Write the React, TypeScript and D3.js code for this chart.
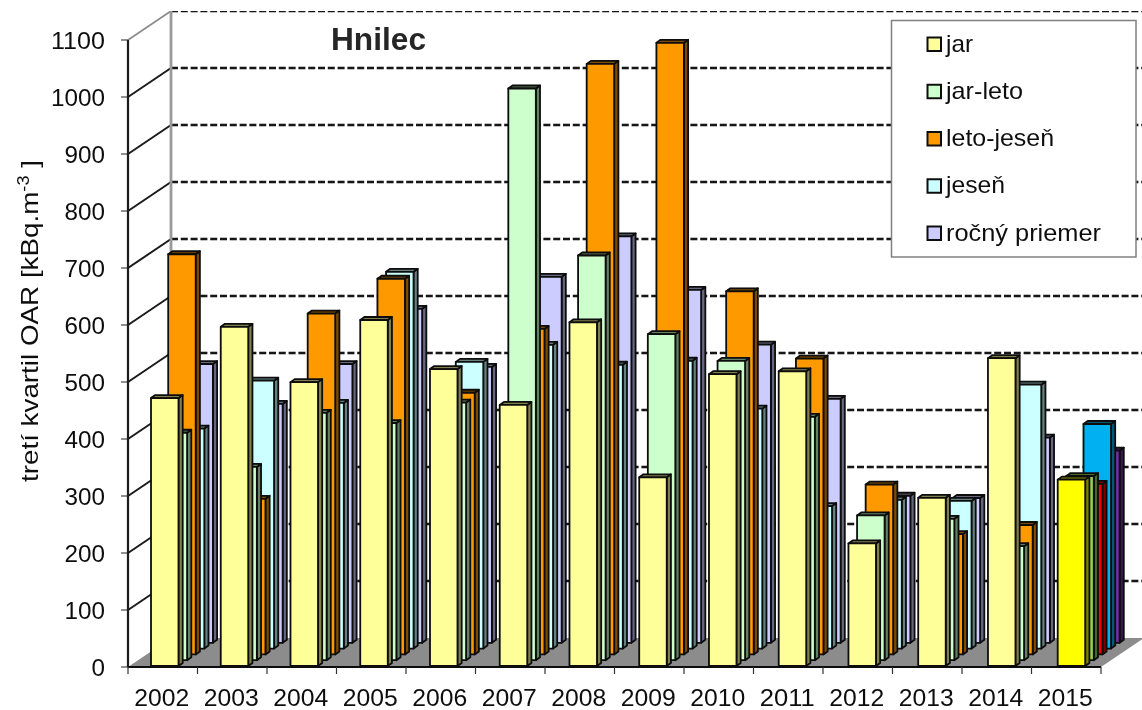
import React from "react";
import * as d3 from "d3";

const years = ["2002","2003","2004","2005","2006","2007","2008","2009","2010","2011","2012","2013","2014","2015"];
const seriesNames = ["jar","jar-leto","leto-jeseň","jeseň","ročný priemer"];
const jar =      [470,595,498,607,521,458,603,331,512,517,215,295,540,327];
const jarLeto =  [399,339,434,416,452,1003,710,572,525,427,254,248,200,323];
const letoJesen =[702,273,598,659,459,571,1036,1073,637,519,298,211,227,299];
const jesen =    [386,470,431,661,503,533,498,505,421,250,261,259,463,394];
const rocny =    [489,419,489,586,484,642,713,619,523,428,258,254,360,337];
const seriesValues = [jar,jarLeto,letoJesen,jesen,rocny];
const colors = ["#FFFF99","#CCFFCC","#FF9900","#CCFFFF","#CCCCFF"];
const sideColors = ["#808050","#668066","#804C00","#668080","#666680"];
const colors2015 = ["#FFFF00","#92D050","#FF0000","#00B0F0","#7030A0"];
const sideColors2015 = ["#808000","#496828","#800000","#005878","#381850"];
const yTicks = d3.range(0, 1101, 100);
const legendWidths = [27, 77, 108, 59, 155];

const font = "'Liberation Sans', Arial, sans-serif";

export default function App() {
  const y = d3.scaleLinear().domain([0, 1100]).range([667, 40]);
  const x = d3.scaleBand<string>().domain(years).range([128, 1101]);
  const barLeft = d3.scalePoint<string>().domain(years).range([151, 1057.7]);
  const depth = d3.scaleLinear().domain([0, 5]);
  const dxs = depth.copy().range([0, 43]);
  const dys = depth.copy().range([0, -29]);
  const line = d3.line<[number, number]>();
  const barW = 27.5, sx = 4.2, sy = 3, lift = -1;

  const bars: React.ReactNode[] = [];
  for (let s = 4; s >= 0; s--) {
    years.forEach((yr, i) => {
      const v = seriesValues[s][i];
      const l = barLeft(yr)! + dxs(s);
      const r = l + barW;
      const b = y(0) + dys(s) + lift;
      const t = y(v) + dys(s) + lift;
      const fill = i === 13 ? colors2015[s] : colors[s];
      const side = i === 13 ? sideColors2015[s] : sideColors[s];
      const common = { stroke: "#0c0c0c", strokeWidth: 1.8, strokeLinejoin: "round" as const };
      bars.push(
        <g key={s + "-" + i}>
          <path d={line([[r, t],[r + sx, t - sy],[r + sx, b - sy],[r, b]])! + "Z"} fill={side} {...common} />
          <path d={line([[l, t],[l + sx, t - sy],[r + sx, t - sy],[r, t]])! + "Z"} fill={side} {...common} />
          <rect x={l} y={t} width={barW} height={b - t} fill={fill} {...common} />
        </g>
      );
    });
  }

  const X0 = 128, X1 = 1101, DX = 43, DY = -29;
  return (
    <svg width={1142} height={710} style={{ position: "absolute", left: 0, top: 0, background: "#fff" }}>
      <defs>
        <filter id="soft" x="0" y="0" width="100%" height="100%">
          <feGaussianBlur stdDeviation="0.45" />
        </filter>
      </defs>
      <g filter="url(#soft)">
        <path d={line([[X0, y(0)],[X1, y(0)],[X1 + DX, y(0) + DY],[X0 + DX, y(0) + DY]])! + "Z"} fill="#8c8c8c" />
        {yTicks.map(t => (
          <g key={t}>
            {t > 0 && (
              <line x1={X0 + DX} x2={1142} y1={y(t) + DY} y2={y(t) + DY} stroke="#161616" strokeWidth={2.4} strokeDasharray="7 2.8" />
            )}
            {t > 0 && (
              <line x1={X0} x2={X0 + DX} y1={y(t)} y2={y(t) + DY} stroke={t === 1100 ? "#8a8a8a" : "#1a1a1a"} strokeWidth={t === 1100 ? 1.6 : 2} />
            )}
            <line x1={X0 - 7} x2={X0} y1={y(t)} y2={y(t)} stroke="#444" strokeWidth={1.2} />
            <text x={105} y={y(t) + 9} textAnchor="end" fontFamily={font} fontSize={23.5} fill="#111"
              textLength={t >= 1000 ? 54 : t > 0 ? 40.5 : 13.5} lengthAdjust="spacingAndGlyphs">{t}</text>
          </g>
        ))}
        <line x1={X0 + DX} x2={X0 + DX} y1={y(1100) + DY} y2={y(0) + DY} stroke="#9a9a9a" strokeWidth={2.8} />
        <line x1={X0} x2={X0} y1={y(1100)} y2={y(0)} stroke="#1a1a1a" strokeWidth={2.2} />
        {bars}
        <line x1={X0} x2={X1} y1={y(0)} y2={y(0)} stroke="#0c0c0c" strokeWidth={2.2} />
        {years.map(yr => (
          <g key={yr}>
            <line x1={x(yr)! + x.bandwidth()} x2={x(yr)! + x.bandwidth()} y1={y(0)} y2={y(0) + 7} stroke="#333" strokeWidth={1.2} />
            <text x={x(yr)! + x.bandwidth() / 2 - 1} y={706} textAnchor="middle" fontFamily={font} fontSize={24.5} fill="#111"
              textLength={55} lengthAdjust="spacingAndGlyphs">{yr}</text>
          </g>
        ))}
        <line x1={X0} x2={X0} y1={y(0)} y2={y(0) + 7} stroke="#333" strokeWidth={1.2} />
        <text x={331} y={50} fontFamily={font} fontSize={31} fontWeight="bold" fill="#262626"
          textLength={95} lengthAdjust="spacingAndGlyphs">Hnilec</text>
        <text transform="translate(38,321) rotate(-90)" textAnchor="middle" fontFamily={font} fontSize={24.5} fill="#111" textLength={322} lengthAdjust="spacingAndGlyphs">
          tretí kvartil OAR [kBq.m<tspan dy={-9} fontSize={16}>-3</tspan><tspan dy={9}> ]</tspan>
        </text>
        <rect x={891.5} y={20.5} width={244.5} height={236.5} fill="#fff" stroke="#808080" strokeWidth={1.5} />
        {seriesNames.map((n, i) => {
          const cy = d3.scaleLinear().domain([0, 4]).range([44.5, 233.5])(i);
          return (
            <g key={n}>
              <rect x={927.5} y={cy - 7} width={13.5} height={13.5} fill={colors[i]} stroke="#111" strokeWidth={2} />
              <text x={946} y={cy + 7} fontFamily={font} fontSize={24} fill="#111"
                textLength={legendWidths[i]} lengthAdjust="spacingAndGlyphs">{n}</text>
            </g>
          );
        })}
      </g>
    </svg>
  );
}
